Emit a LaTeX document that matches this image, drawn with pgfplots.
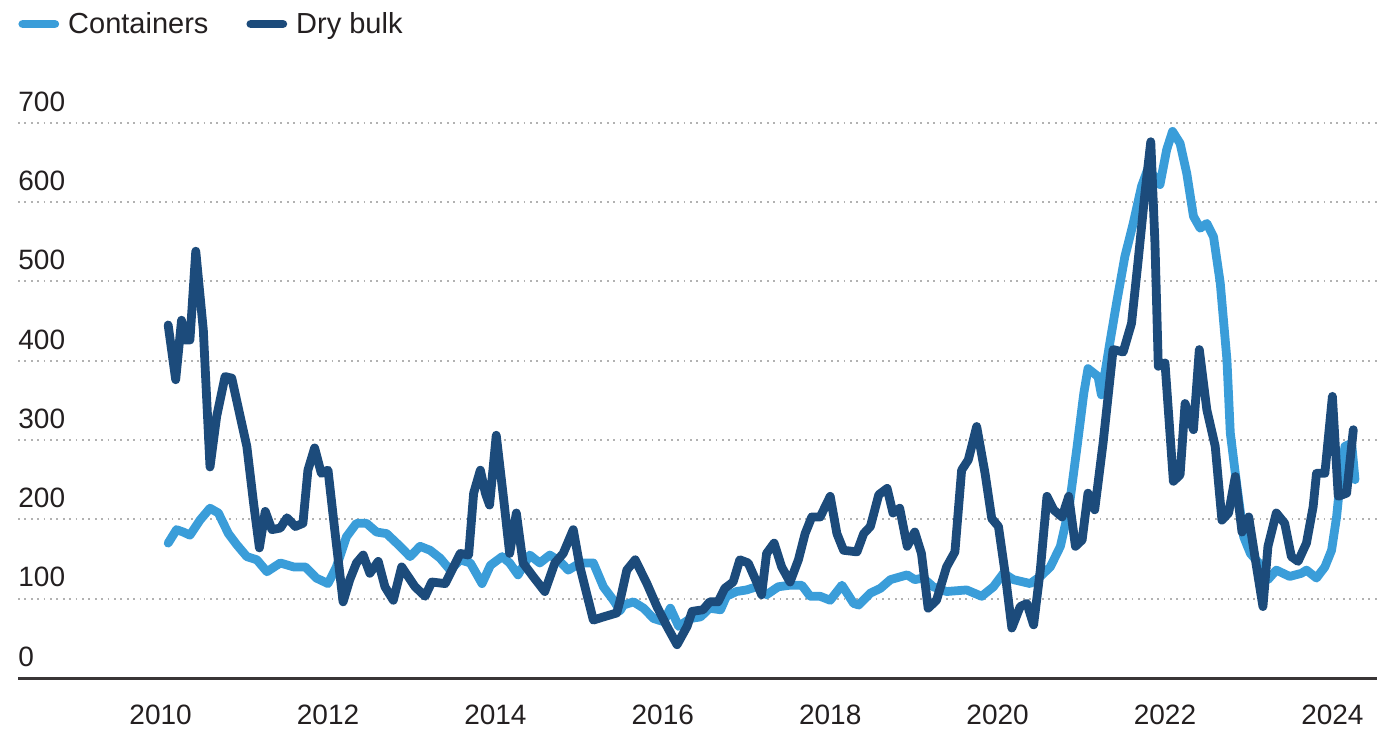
\documentclass[border=0pt]{standalone}
\usepackage{pgfplots}
\pgfplotsset{compat=1.18}
\usepackage{fontspec}
\setmainfont{Liberation Sans}
\definecolor{cont}{RGB}{58,157,217}
\definecolor{bulk}{RGB}{28,75,123}
\definecolor{txt}{RGB}{35,31,32}
\begin{document}
\begin{tikzpicture}
\begin{axis}[
  scale only axis, width=679.5bp, height=284bp,
  xmin=2008.296, xmax=2024.533, ymin=0, ymax=716,
  /pgf/number format/assume math mode=true,
  axis x line*=bottom, axis y line*=left,
  x axis line style={-, line width=1.5bp, color=txt!90},
  y axis line style={draw=none},
  major tick length=0pt,
  xtick={2010,2012,...,2024},
  ytick={0,100,...,700},
  xticklabel style={/pgf/number format/1000 sep={}, inner sep=0pt, anchor=north, yshift=-13.5bp, font=\fontsize{14bp}{16bp}\selectfont, text=txt},
  yticklabel style={inner sep=0pt, anchor=south west, yshift=5.5bp, font=\fontsize{14bp}{16bp}\selectfont, text=txt},
  ymajorgrids,
  grid style={dash pattern=on 0.9bp off 2.3bp, line width=0.9bp, color=gray!60},
  legend columns=2,
  legend style={at={(0,1)}, anchor=west, xshift=0bp, yshift=43bp, draw=none, fill=none, inner sep=0pt,
    font=\fontsize{14.5bp}{16bp}\selectfont, text=txt,
    /tikz/every even column/.append style={column sep=17bp},
    nodes={inner sep=2bp}},
  legend image code/.code={\draw[#1, line cap=round] (2bp,0bp) -- (18bp,0bp); \path (20.5bp,0bp);},
  clip=false,
]
\addplot[cont, line width=4.4bp, line join=round, line cap=round] coordinates {
(2010.09,170) (2010.19,187) (2010.27,184) (2010.35,180) (2010.47,199) (2010.59,214) (2010.69,208) (2010.81,182) (2010.91,168)
(2011.03,153) (2011.15,149) (2011.27,134) (2011.43,145) (2011.59,140) (2011.73,140) (2011.86,126)
(2012.00,119) (2012.10,140) (2012.22,178) (2012.34,195) (2012.46,195) (2012.58,184) (2012.70,182) (2012.86,166) (2012.98,153)
(2013.10,166) (2013.22,161) (2013.34,151) (2013.46,136) (2013.58,149) (2013.70,145) (2013.84,119) (2013.94,142)
(2014.08,153) (2014.17,145) (2014.27,130) (2014.41,155) (2014.53,145) (2014.65,155) (2014.77,147) (2014.87,136)
(2015.01,145) (2015.17,145) (2015.29,115) (2015.41,98) (2015.49,85) (2015.53,92) (2015.65,96) (2015.77,88) (2015.89,75)
(2016.01,71) (2016.09,88) (2016.19,65) (2016.33,75) (2016.45,77) (2016.56,88) (2016.69,86) (2016.76,103) (2016.88,109)
(2017.00,111) (2017.12,115) (2017.24,105) (2017.38,115) (2017.52,117) (2017.66,117) (2017.76,103) (2017.88,103)
(2018.00,98) (2018.14,117) (2018.28,94) (2018.34,92) (2018.48,107) (2018.60,113) (2018.72,124) (2018.92,130)
(2019.01,124) (2019.11,126) (2019.23,115) (2019.39,109) (2019.63,111) (2019.81,103) (2019.95,115)
(2020.07,132) (2020.19,124) (2020.39,119) (2020.51,128) (2020.63,140) (2020.75,166) (2020.85,212) (2020.95,292)
(2021.03,359) (2021.08,390) (2021.20,380) (2021.24,357) (2021.34,422) (2021.42,472) (2021.52,531) (2021.62,573) (2021.72,620) (2021.80,643) (2021.94,622)
(2022.02,666) (2022.09,689) (2022.18,674) (2022.26,636) (2022.34,582) (2022.42,567) (2022.50,573) (2022.58,556) (2022.66,498) (2022.74,401) (2022.78,309) (2022.86,241) (2022.94,178)
(2023.02,157) (2023.12,145) (2023.23,124) (2023.33,136) (2023.49,128) (2023.63,132) (2023.69,136) (2023.81,126) (2023.91,140) (2023.99,161)
(2024.05,203) (2024.09,245) (2024.15,292) (2024.23,296) (2024.27,250)
};
\addlegendentry{Containers}
\addplot[bulk, line width=4.4bp, line join=round, line cap=round] coordinates {
(2010.09,445) (2010.18,376) (2010.25,451) (2010.29,426) (2010.35,426) (2010.42,538) (2010.51,439) (2010.59,266) (2010.67,330) (2010.77,380) (2010.85,378) (2010.95,330)
(2011.03,292) (2011.11,221) (2011.18,164) (2011.25,210) (2011.33,187) (2011.43,189) (2011.51,202) (2011.61,191) (2011.70,195) (2011.76,262) (2011.84,290) (2011.92,258)
(2012.00,262) (2012.08,187) (2012.18,96) (2012.26,124) (2012.34,145) (2012.42,155) (2012.50,132) (2012.60,147) (2012.68,115) (2012.78,98) (2012.88,140)
(2013.04,115) (2013.16,103) (2013.24,121) (2013.40,119) (2013.58,157) (2013.68,155) (2013.74,233) (2013.82,262) (2013.88,233) (2013.93,218)
(2014.01,306) (2014.10,224) (2014.17,157) (2014.25,208) (2014.33,145) (2014.45,128) (2014.59,109) (2014.71,145) (2014.81,157) (2014.93,187)
(2015.01,140) (2015.17,73) (2015.29,77) (2015.45,82) (2015.49,98) (2015.57,136) (2015.67,149) (2015.81,119) (2015.93,90)
(2016.05,65) (2016.17,42) (2016.29,65) (2016.35,84) (2016.48,86) (2016.56,96) (2016.66,96) (2016.74,113) (2016.84,121) (2016.92,149)
(2017.02,145) (2017.12,121) (2017.18,105) (2017.24,157) (2017.33,170) (2017.42,140) (2017.52,121) (2017.62,149) (2017.70,182) (2017.78,203) (2017.88,203)
(2018.00,229) (2018.08,182) (2018.16,161) (2018.32,159) (2018.40,182) (2018.48,191) (2018.58,231) (2018.68,239) (2018.75,208) (2018.83,214) (2018.92,166)
(2019.01,184) (2019.09,157) (2019.17,88) (2019.27,98) (2019.39,140) (2019.49,159) (2019.57,262) (2019.65,275) (2019.75,317) (2019.85,258) (2019.93,201)
(2020.01,191) (2020.09,132) (2020.17,63) (2020.27,90) (2020.35,94) (2020.43,67) (2020.51,136) (2020.59,229) (2020.67,212) (2020.77,203) (2020.85,229) (2020.93,166)
(2021.01,174) (2021.08,233) (2021.16,212) (2021.26,296) (2021.38,414) (2021.50,411) (2021.60,447) (2021.68,527) (2021.76,611) (2021.83,676) (2021.88,548) (2021.92,393)
(2022.00,397) (2022.10,248) (2022.18,256) (2022.24,346) (2022.34,313) (2022.41,414) (2022.50,338) (2022.60,292) (2022.68,199) (2022.76,208) (2022.84,254) (2022.92,184)
(2023.00,203) (2023.08,149) (2023.17,90) (2023.23,166) (2023.33,208) (2023.43,195) (2023.51,153) (2023.59,147) (2023.69,170) (2023.77,216) (2023.81,258) (2023.91,258)
(2024.00,355) (2024.07,229) (2024.17,233) (2024.25,313)
};
\addlegendentry{Dry bulk}
\coordinate (bl) at (rel axis cs:0,0);
\coordinate (tr) at (rel axis cs:1,1);
\end{axis}
\pgfresetboundingbox
\useasboundingbox ([xshift=-9bp,yshift=-27bp]bl) rectangle ([xshift=7bp,yshift=55bp]tr);
\end{tikzpicture}
\end{document}
